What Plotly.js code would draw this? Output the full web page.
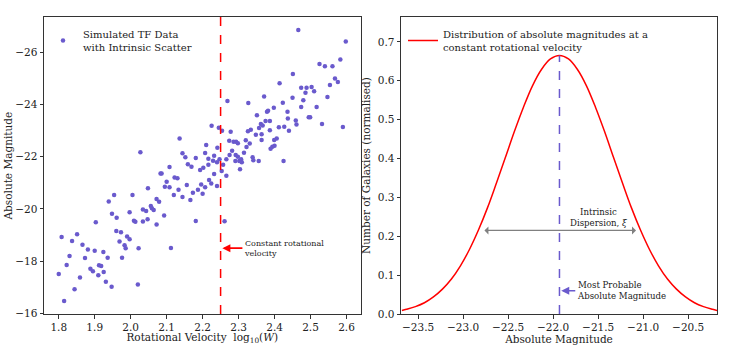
<!DOCTYPE html>
<html>
<head>
<meta charset="utf-8">
<script src="https://cdn.plot.ly/plotly-3.0.1.min.js"></script>
<style>
  html, body { margin: 0; padding: 0; background: #fff; }
  #tf_chart { width: 747px; height: 345px; }
</style>
</head>
<body>
<div id="tf_chart"></div>
<script>
// Simulated Tully-Fisher points: log10(W) and absolute magnitude
var logVelocity = [
    2.048, 1.954, 2.005, 1.939, 1.948, 1.997, 2.034, 2.043, 1.961, 1.903,
    2.009, 2.013, 2.034, 2.047, 1.960, 1.973, 1.990, 1.997, 1.808, 1.851,
    1.837, 1.866, 1.969, 1.983, 1.986, 1.881, 1.900, 1.924, 2.022, 1.830,
    1.873, 1.936, 1.976, 1.822, 1.912, 1.918, 1.888, 1.895, 1.925, 1.800,
    1.910, 1.859, 1.931, 1.947, 2.020, 1.844, 1.815,
    2.225, 2.245, 2.136, 2.027, 2.210, 2.144, 2.241, 2.152, 2.181, 2.207,
    2.232, 2.216, 2.229, 2.240, 2.247, 2.159, 2.169, 2.216, 2.202, 2.193,
    2.108, 2.083, 2.086, 2.122, 2.130, 2.232, 2.100, 2.095, 2.108, 2.218,
    2.224, 2.196, 2.156, 2.133, 2.120, 2.207, 2.187, 2.240, 2.173, 2.200,
    2.144, 2.166, 2.072, 2.079, 2.056, 2.059, 2.064, 2.093, 2.072, 2.181,
    2.112,
    2.414, 2.371, 2.269, 2.327, 2.398, 2.382, 2.379, 2.436, 2.351, 2.437,
    2.375, 2.387, 2.362, 2.367, 2.357, 2.412, 2.427, 2.440, 2.334, 2.326,
    2.254, 2.278, 2.348, 2.364, 2.406, 2.399, 2.364, 2.274, 2.286, 2.293,
    2.298, 2.320, 2.331, 2.394, 2.389, 2.400, 2.322, 2.282, 2.275, 2.292,
    2.298, 2.315, 2.307, 2.302, 2.309, 2.339, 2.341, 2.356, 2.425, 2.266,
    2.291, 2.257, 2.304, 2.253, 2.266,
    2.466, 2.598, 2.525, 2.540, 2.561, 2.583, 2.451, 2.568, 2.576, 2.554,
    2.474, 2.489, 2.503, 2.486, 2.510, 2.547, 2.450, 2.480, 2.423, 2.474,
    2.517, 2.495, 2.499, 2.459, 2.532, 2.461, 2.590, 2.387,
    2.261
];
var absMagnitude = [
    -20.79, -20.54, -20.54, -20.29, -19.82, -19.88, -19.98, -19.92, -19.66, -19.49,
    -19.55, -19.51, -19.52, -19.61, -19.16, -19.11, -18.95, -18.84, -18.93, -19.03,
    -18.77, -18.63, -18.76, -18.61, -18.50, -18.45, -18.40, -18.35, -18.50, -18.20,
    -18.12, -18.13, -18.13, -17.86, -17.85, -17.82, -17.71, -17.62, -17.59, -17.51,
    -17.46, -17.38, -17.21, -17.02, -17.11, -16.93, -16.48,
    -23.19, -23.11, -22.70, -22.17, -22.45, -22.13, -22.34, -21.98, -21.95, -22.14,
    -22.04, -21.92, -21.85, -21.79, -21.90, -21.71, -21.62, -21.69, -21.58, -21.49,
    -21.61, -21.36, -21.36, -21.21, -21.18, -21.34, -21.04, -20.85, -20.83, -21.11,
    -20.98, -20.94, -20.92, -20.74, -20.54, -20.83, -20.74, -20.88, -20.62, -20.58,
    -20.46, -20.34, -20.38, -20.28, -20.11, -20.03, -19.96, -19.75, -19.41, -19.54,
    -18.51,
    -24.81, -24.31, -24.13, -24.06, -23.88, -23.76, -23.72, -23.72, -23.59, -23.46,
    -23.37, -23.37, -23.25, -23.20, -23.10, -23.13, -23.15, -23.00, -23.03, -22.98,
    -23.00, -22.96, -22.84, -22.86, -22.70, -22.64, -22.64, -22.61, -22.57, -22.57,
    -22.52, -22.63, -22.51, -22.38, -22.31, -22.42, -22.37, -22.23, -22.07, -22.07,
    -22.00, -22.15, -21.90, -21.84, -21.79, -21.98, -21.87, -21.84, -21.84, -21.90,
    -21.84, -21.69, -21.52, -21.45, -21.27,
    -26.85, -26.41, -25.55, -25.46, -25.46, -25.72, -25.17, -25.00, -24.86, -24.75,
    -24.64, -24.64, -24.67, -24.45, -24.51, -24.29, -24.26, -24.16, -24.07, -23.90,
    -23.90, -23.51, -23.51, -23.39, -23.25, -23.23, -23.14, -23.01,
    -19.53
];

// the chosen rotational velocity slice
var constantLogVelocity = 2.25;

// distribution of magnitudes at that velocity
var distMagnitude = [
    -23.68, -23.63, -23.53, -23.43, -23.33, -23.23, -23.13, -23.03, -22.93, -22.83,
    -22.73, -22.63, -22.53, -22.43, -22.33, -22.23, -22.13, -22.03, -21.93, -21.83,
    -21.73, -21.63, -21.53, -21.43, -21.33, -21.23, -21.13, -21.03, -20.93, -20.83,
    -20.73, -20.63, -20.53, -20.43, -20.33, -20.23, -20.18
];
var distDensity = [
    0.009, 0.012, 0.019, 0.029, 0.044, 0.064, 0.090, 0.124, 0.166, 0.216,
    0.273, 0.337, 0.403, 0.470, 0.532, 0.587, 0.629, 0.656, 0.665, 0.656,
    0.629, 0.587, 0.532, 0.470, 0.403, 0.337, 0.273, 0.216, 0.166, 0.124,
    0.090, 0.064, 0.044, 0.029, 0.019, 0.012, 0.009
];
var peakMagnitude = -21.93;
var peakDensity = 0.665;
var dispersionEnds = [-22.78, -21.08];
var dispersionLevel = 0.215;

var serif = "DejaVu Serif, Liberation Serif, serif";
var pointColor = "#6a5acd";

var data = [
    {
        x: logVelocity,
        y: absMagnitude,
        xaxis: "x",
        yaxis: "y",
        type: "scatter",
        mode: "markers",
        marker: { color: pointColor, size: 4.5 },
        name: "Simulated TF Data<br>with Intrinsic Scatter",
        legend: "legend"
    },
    {
        x: distMagnitude,
        y: distDensity,
        xaxis: "x2",
        yaxis: "y2",
        type: "scatter",
        mode: "lines",
        line: { color: "#ff0000", width: 1.5, shape: "spline" },
        name: "Distribution of absolute magnitudes at a<br>constant rotational velocity",
        legend: "legend2"
    }
];

var axisStyle = {
    showline: true,
    mirror: true,
    linecolor: "#333",
    linewidth: 1,
    ticks: "outside",
    ticklen: 3.5,
    tickwidth: 1,
    tickcolor: "#333",
    showgrid: false,
    zeroline: false,
    automargin: false,
    tickfont: { family: serif, size: 10.5, color: "#222" }
};

function axis(extra) {
    return Object.assign({}, axisStyle, extra);
}

var layout = {
    width: 747,
    height: 345,
    margin: { l: 44, r: 30, t: 17, b: 31, autoexpand: false },
    paper_bgcolor: "#fff",
    plot_bgcolor: "#fff",
    font: { family: serif, size: 10, color: "#222" },
    showlegend: true,
    xaxis: axis({
        domain: [0, 0.4703],
        range: [1.759, 2.639],
        tick0: 1.8,
        dtick: 0.1,
        tickformat: ".1f",
        title: { text: "Rotational Velocity  log<sub>10</sub>(<i>W</i>)", font: { family: serif, size: 10.5 }, standoff: 6 }
    }),
    yaxis: axis({
        domain: [0, 1],
        range: [-15.98, -27.35],
        dtick: 2
    }),
    xaxis2: axis({
        domain: [0.5305, 1],
        anchor: "y2",
        range: [-23.69, -20.18],
        dtick: 0.5,
        tickformat: ".1f",
        title: { text: "Absolute Magnitude", font: { family: serif, size: 10.5 }, standoff: 5 }
    }),
    yaxis2: axis({
        domain: [0, 1],
        anchor: "x2",
        range: [0, 0.764],
        dtick: 0.1,
        tickformat: ".1f",
        title: { text: "Number of Galaxies (normalised)", font: { family: serif, size: 10.5 } }
    }),
    legend: {
        xref: "container", yref: "container",
        x: 43 / 747, y: 1 - 21 / 345,
        xanchor: "left", yanchor: "top",
        bgcolor: "rgba(0,0,0,0)",
        font: { family: serif, size: 10, color: "#222" }
    },
    legend2: {
        xref: "container", yref: "container",
        x: 403 / 747, y: 1 - 21 / 345,
        xanchor: "left", yanchor: "top",
        bgcolor: "rgba(0,0,0,0)",
        font: { family: serif, size: 10, color: "#222" }
    },
    shapes: [
        {
            type: "line", xref: "x", yref: "y domain",
            x0: constantLogVelocity, x1: constantLogVelocity, y0: 0, y1: 1,
            line: { color: "#ff0000", width: 1.5, dash: "dash" }
        },
        {
            type: "line", xref: "x2", yref: "y2",
            x0: peakMagnitude, x1: peakMagnitude, y0: 0, y1: peakDensity,
            line: { color: pointColor, width: 1.5, dash: "dash" }
        }
    ],
    annotations: [
        {
            // left y-axis title
            xref: "paper", yref: "paper",
            x: -0.0535, y: 0.5,
            xanchor: "center", yanchor: "middle",
            showarrow: false, textangle: -90,
            text: "Absolute Magnitude",
            font: { family: serif, size: 10.5, color: "#222" }
        },
        {
            xref: "x", yref: "y",
            x: constantLogVelocity + 0.005, y: -18.5,
            ax: 20, ay: 0,
            showarrow: true, arrowhead: 2, arrowsize: 1, arrowwidth: 1.6, arrowcolor: "#ff0000",
            text: "Constant rotational<br>velocity",
            xanchor: "left", align: "left",
            font: { family: serif, size: 8, color: "#222" }
        },
        {
            xref: "x2", yref: "y2",
            x: peakMagnitude + 0.02, y: 0.06,
            ax: 14, ay: 0,
            showarrow: true, arrowhead: 2, arrowsize: 1, arrowwidth: 1.6, arrowcolor: pointColor,
            text: "Most Probable<br>Absolute Magnitude",
            xanchor: "left", align: "left",
            font: { family: serif, size: 8.6, color: "#222" }
        },
        {
            xref: "x2", yref: "y2", axref: "x2", ayref: "y2",
            x: dispersionEnds[1], y: dispersionLevel,
            ax: dispersionEnds[0], ay: dispersionLevel,
            showarrow: true, arrowside: "end+start", arrowhead: 1, startarrowhead: 1,
            arrowsize: 1.2, startarrowsize: 1.2, arrowwidth: 1.1, arrowcolor: "#808080",
            text: ""
        },
        {
            xref: "x2", yref: "y2",
            x: -21.49, y: 0.247,
            showarrow: false,
            text: "Intrinsic<br>Dispersion, <i>ξ</i>",
            align: "center",
            font: { family: serif, size: 8.6, color: "#222" }
        }
    ]
};

Plotly.newPlot("tf_chart", data, layout, { displayModeBar: false, staticPlot: true });
</script>
</body>
</html>
